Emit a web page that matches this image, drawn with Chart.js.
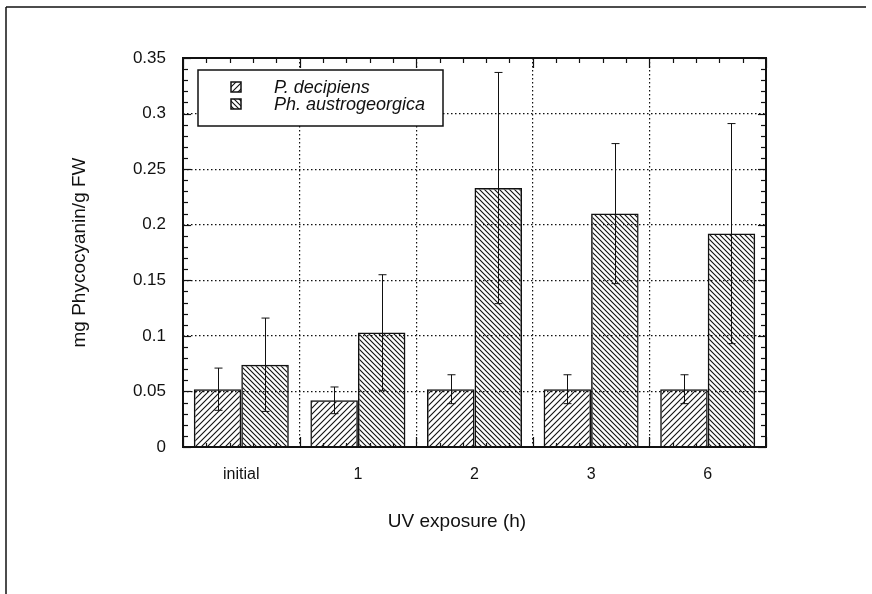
<!DOCTYPE html>
<html>
<head>
<meta charset="utf-8">
<script src="https://cdn.jsdelivr.net/npm/chart.js@4.4.1/dist/chart.umd.min.js"></script>
<style>
  html, body { margin: 0; padding: 0; background: #fff; }
  #wrap { width: 872px; height: 594px; }
</style>
</head>
<body>
<div id="wrap"><canvas id="chart" width="872" height="594"></canvas></div>
<script>
// UV exposure groups and phycocyanin content (mg/g FW), mean and SD
const categories = ['initial', '1', '2', '3', '6'];
const decipiens = [0.052, 0.042, 0.052, 0.052, 0.052];
const decipiensErr = [0.019, 0.012, 0.013, 0.013, 0.013];
const austro = [0.074, 0.103, 0.233, 0.210, 0.192];
const austroErr = [0.042, 0.052, 0.104, 0.063, 0.099];
const yTicks = [0, 0.05, 0.1, 0.15, 0.2, 0.25, 0.3, 0.35];
const xTitle = 'UV exposure (h)';

const INK = '#111';
const FONT = '"Liberation Sans", Arial, sans-serif';

const canvas = document.getElementById('chart');
const ctx0 = canvas.getContext('2d');

// diagonal hatch fill; dir > 0 draws '/', otherwise '\'
function hatch(s, dir) {
  const c = document.createElement('canvas');
  c.width = c.height = s;
  const g = c.getContext('2d');
  g.strokeStyle = INK;
  g.lineWidth = 1.1;
  g.beginPath();
  if (dir > 0) {
    g.moveTo(0, s); g.lineTo(s, 0);
    g.moveTo(-1, 1); g.lineTo(1, -1);
    g.moveTo(s - 1, s + 1); g.lineTo(s + 1, s - 1);
  } else {
    g.moveTo(0, 0); g.lineTo(s, s);
    g.moveTo(s - 1, -1); g.lineTo(s + 1, 1);
    g.moveTo(-1, s - 1); g.lineTo(1, s + 1);
  }
  g.stroke();
  return ctx0.createPattern(c, 'repeat');
}

const fwdHatch = hatch(6, 1);
const backHatch = hatch(5, -1);

function seg(ctx, x1, y1, x2, y2) {
  ctx.beginPath();
  ctx.moveTo(x1, y1);
  ctx.lineTo(x2, y2);
  ctx.stroke();
}

// error bars on top of each bar
const errorBars = {
  id: 'errorBars',
  afterDatasetsDraw(chart) {
    const { ctx, scales: { y } } = chart;
    ctx.save();
    ctx.strokeStyle = INK;
    ctx.lineWidth = 1;
    chart.data.datasets.forEach((ds, d) => {
      const meta = chart.getDatasetMeta(d);
      meta.data.forEach((bar, i) => {
        const v = ds.data[i], e = ds.errors[i];
        const x = Math.round(bar.x) + 0.5;
        const top = y.getPixelForValue(v + e);
        const bot = y.getPixelForValue(v - e);
        seg(ctx, x, top, x, bot);
        seg(ctx, x - 4, top, x + 4, top);
        seg(ctx, x - 4, bot, x + 4, bot);
      });
    });
    ctx.restore();
  }
};

// plot frame with inward major/minor ticks, plus the page border
const frame = {
  id: 'frame',
  afterDatasetsDraw(chart) {
    const { ctx, chartArea: a, scales: { x, y } } = chart;
    ctx.save();
    ctx.strokeStyle = INK;
    ctx.lineWidth = 1.2;
    for (let i = 0; i <= 35; i++) {
      const py = Math.round(y.getPixelForValue(i / 100)) + 0.5;
      const len = i % 5 === 0 ? 8 : 5;
      seg(ctx, a.left, py, a.left + len, py);
      seg(ctx, a.right, py, a.right - len, py);
    }
    const w = x.getPixelForValue(1) - x.getPixelForValue(0);
    const x0 = x.getPixelForValue(0) - w / 2;
    for (let i = 0; i <= categories.length * 5; i++) {
      const px = Math.round(x0 + i * w / 5) + 0.5;
      const major = i % 5 === 0;
      seg(ctx, px, a.top, px, a.top + (major ? 10 : 5));
      seg(ctx, px, a.bottom, px, a.bottom - (major ? 10 : 4));
    }
    ctx.lineWidth = 2;
    ctx.strokeRect(a.left, a.top, a.right - a.left, a.bottom - a.top);

    ctx.lineWidth = 1.5;
    seg(ctx, 6, 7, 6, 594);
    seg(ctx, 6, 7, 866, 7);

    // x axis title, set a little left of the plot centre
    ctx.fillStyle = INK;
    ctx.font = '19px ' + FONT;
    ctx.textAlign = 'center';
    ctx.textBaseline = 'middle';
    ctx.fillText(xTitle, 457, 522);
    ctx.restore();
  }
};

// legend box inside the plot
const legendBox = {
  id: 'legendBox',
  afterDraw(chart) {
    const { ctx } = chart;
    ctx.save();
    ctx.fillStyle = '#fff';
    ctx.fillRect(198, 70, 245, 56);
    ctx.strokeStyle = INK;
    ctx.lineWidth = 1.5;
    ctx.strokeRect(198, 70, 245, 56);
    ctx.font = 'italic 18px ' + FONT;
    ctx.textBaseline = 'alphabetic';
    chart.data.datasets.forEach((ds, i) => {
      const yy = 82 + i * 17;
      ctx.fillStyle = ds.backgroundColor;
      ctx.fillRect(231, yy, 10, 10);
      ctx.strokeRect(231, yy, 10, 10);
      ctx.fillStyle = INK;
      ctx.fillText(ds.label, 274, yy + 11);
    });
    ctx.restore();
  }
};

const dotted = [1.5, 2.5];

new Chart(canvas, {
  type: 'bar',
  data: {
    labels: categories,
    datasets: [
      { label: 'P. decipiens', data: decipiens, errors: decipiensErr,
        backgroundColor: fwdHatch, borderColor: INK, borderWidth: 1.5 },
      { label: 'Ph. austrogeorgica', data: austro, errors: austroErr,
        backgroundColor: backHatch, borderColor: INK, borderWidth: 1.5 }
    ]
  },
  options: {
    responsive: false,
    animation: false,
    events: [],
    layout: { padding: { left: 0, right: 106, top: 58, bottom: 54 } },
    datasets: { bar: { categoryPercentage: 0.815, barPercentage: 1 } },
    plugins: { legend: { display: false }, tooltip: { enabled: false } },
    scales: {
      x: {
        afterFit: s => { s.height = 93; },
        border: { display: false, dash: dotted },
        grid: { color: INK, lineWidth: 1.2, drawTicks: false },
        ticks: { color: INK, padding: 18, font: { family: FONT, size: 16 } }
      },
      y: {
        min: 0,
        max: 0.35,
        afterFit: s => { s.width = 183; },
        afterBuildTicks: s => { s.ticks = yTicks.map(v => ({ value: v })); },
        border: { display: false, dash: dotted },
        grid: {
          color: c => (c.tick && (c.tick.value === 0 || c.tick.value === 0.35)) ? 'rgba(0,0,0,0)' : INK,
          lineWidth: 1.2, drawTicks: false
        },
        ticks: { color: INK, padding: 17, font: { family: FONT, size: 17 },
                 callback: v => String(+Number(v).toFixed(2)) },
        title: { display: true, text: 'mg Phycocyanin/g FW', color: INK,
                 padding: { top: 68, bottom: 0 }, font: { family: FONT, size: 19 } }
      }
    }
  },
  plugins: [errorBars, frame, legendBox]
});
</script>
</body>
</html>
